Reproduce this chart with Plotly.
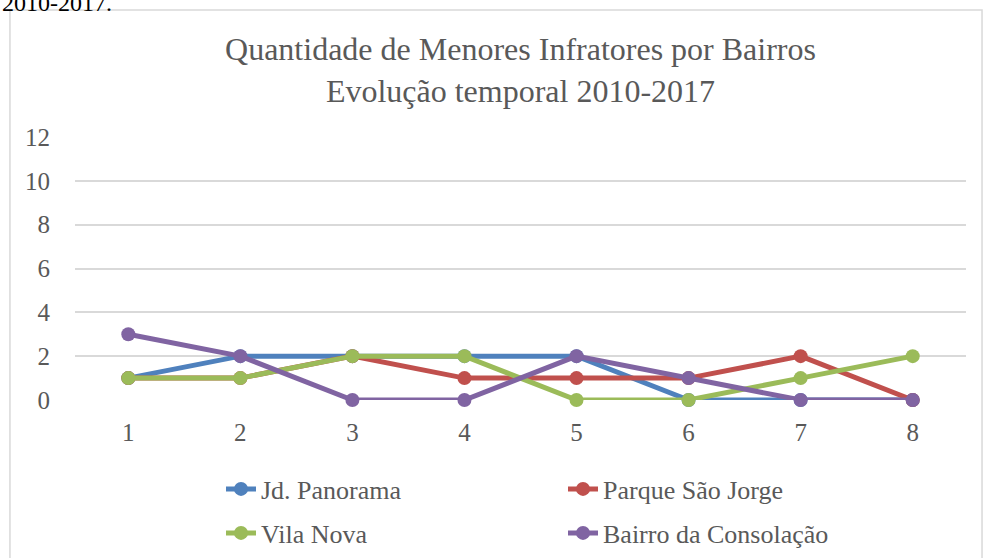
import plotly.graph_objects as go

# dados
periodos = ["1", "2", "3", "4", "5", "6", "7", "8"]
jd_panorama = [1, 2, 2, 2, 2, 0, 0, 0]
parque_sao_jorge = [1, 1, 2, 1, 1, 1, 2, 0]
vila_nova = [1, 1, 2, 2, 0, 0, 1, 2]
bairro_consolacao = [3, 2, 0, 0, 2, 1, 0, 0]
y_ticks = [0, 2, 4, 6, 8, 10, 12]

series = [
    ("Jd. Panorama", jd_panorama, "#4F81BD", "legend"),
    ("Parque São Jorge", parque_sao_jorge, "#C0504D", "legend"),
    ("Vila Nova", vila_nova, "#9BBB59", "legend2"),
    ("Bairro da Consolação", bairro_consolacao, "#8064A2", "legend2"),
]

fig = go.Figure()
for nome, valores, cor, leg in series:
    fig.add_trace(go.Scatter(
        x=periodos, y=valores, name=nome, mode="lines+markers",
        line=dict(color=cor, width=5),
        marker=dict(color=cor, size=14),
        cliponaxis=False, legend=leg,
    ))

fonte = "Liberation Serif, Times New Roman, serif"
leg_comum = dict(orientation="h", xref="container", yref="container",
                 xanchor="left", yanchor="middle",
                 entrywidth=297, entrywidthmode="pixels",
                 font=dict(size=26), bgcolor="rgba(0,0,0,0)")
fig.update_layout(
    width=983, height=558,
    margin=dict(l=75, r=17, t=137, b=158, autoexpand=False),
    paper_bgcolor="white", plot_bgcolor="white",
    font=dict(family=fonte, size=25, color="#595959"),
    title=dict(text="Quantidade de Menores Infratores por Bairros<br>Evolução temporal 2010-2017",
               x=0.5, xref="paper", y=1 - 60 / 558, yanchor="top",
               font=dict(family=fonte, size=32, color="#595959")),
    showlegend=True,
    legend=dict(x=221 / 983, y=1 - 489 / 558, **leg_comum),
    legend2=dict(x=221 / 983, y=1 - 533 / 558, **leg_comum),
    xaxis=dict(type="category", showgrid=False, showline=False, zeroline=False,
               ticks="", tickfont=dict(size=25), ticklabelstandoff=15),
    yaxis=dict(range=[0, 12], tickvals=y_ticks, showgrid=True, gridcolor="#D9D9D9",
               gridwidth=1.5, zeroline=False, showline=False, ticks="",
               tickfont=dict(size=25), ticklabelstandoff=24),
    shapes=[dict(type="rect", xref="paper", yref="paper",
                 x0=-0.073, x1=1.018, y0=-0.75, y1=1.483,
                 line=dict(color="#D9D9D9", width=1.5), fillcolor="rgba(0,0,0,0)", layer="below")],
    annotations=[dict(text="2010-2017.", xref="paper", yref="paper", x=-0.084, y=1.51,
                      xanchor="left", yanchor="middle", showarrow=False,
                      font=dict(family=fonte, size=24, color="black"))],
)

fig.write_html("out.html", config={"displayModeBar": False},
               post_script="document.body.style.margin='0';")
